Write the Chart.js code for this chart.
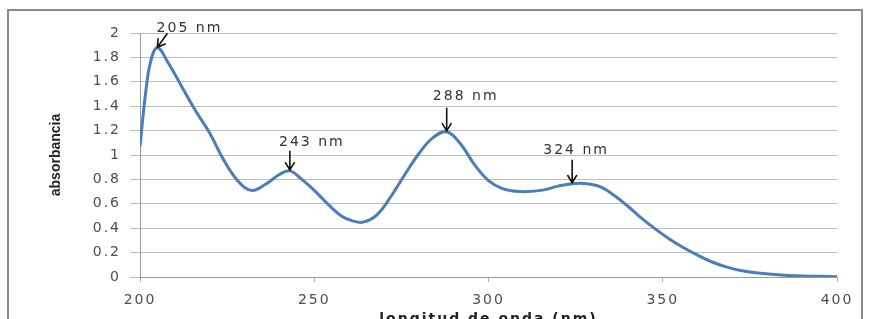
<!DOCTYPE html>
<html>
<head>
<meta charset="utf-8">
<script src="https://cdn.jsdelivr.net/npm/chart.js@4/dist/chart.umd.min.js"></script>
<style>
  html, body { margin: 0; padding: 0; background: #fff; }
  #wrap { width: 871px; height: 319px; }
</style>
</head>
<body>
<div id="wrap"><canvas id="spectrum"></canvas></div>
<script>
// Spectrum
const wavelengths = [200, 201.5, 203, 205, 208, 212, 216, 220, 224, 228, 232, 236, 240, 243, 246, 250, 254, 258, 261, 264, 268, 272, 276, 280, 284, 288, 292, 296, 300, 304, 309, 315, 320, 324, 328, 332, 336, 340, 344, 348, 352, 356, 360, 364, 368, 372, 378, 386, 400];
const absorbance = [1.07, 1.48, 1.76, 1.88, 1.76, 1.56, 1.36, 1.18, 0.96, 0.79, 0.71, 0.76, 0.84, 0.87, 0.81, 0.71, 0.595, 0.495, 0.46, 0.45, 0.51, 0.66, 0.84, 1.01, 1.14, 1.19, 1.09, 0.92, 0.79, 0.725, 0.70, 0.71, 0.745, 0.765, 0.765, 0.74, 0.67, 0.58, 0.48, 0.39, 0.31, 0.24, 0.18, 0.125, 0.085, 0.055, 0.03, 0.013, 0.003];

// Peak annotations
const peakNm = [205, 243, 288, 324];
const peakAbs = [1.875, 0.87, 1.19, 0.765];
const peakLabels = ['205 nm', '243 nm', '288 nm', '324 nm'];

const xTitle = 'longitud de onda (nm)';
const yTitle = 'absorbancia';

// label offset (dx, dy) from the peak and arrow tail offset, in px
const labelStyle = [
  { dx: 31, dy: -20, ax: 10, ay: -15 },
  { dx: 21, dy: -29, ax: 0, ay: -20 },
  { dx: 18, dy: -35, ax: 0, ay: -24 },
  { dx: 3, dy: -33, ax: 0, ay: -24 }
];

// the reference text is drawn wide, so spread the letters a little
const wideText = {
  id: 'wideText',
  beforeDraw(chart) {
    chart.ctx.letterSpacing = '2px';
  }
};

const framePlugin = {
  id: 'frame',
  afterDraw(chart) {
    const ctx = chart.ctx;
    ctx.save();
    ctx.strokeStyle = '#8c8c8c';
    ctx.lineWidth = 2;
    ctx.strokeRect(8, 10, 854, 330);

    // y axis title
    const area = chart.chartArea;
    ctx.letterSpacing = '0px';
    ctx.translate(56, (area.top + area.bottom) / 2);
    ctx.rotate(-Math.PI / 2);
    ctx.font = 'bold 14px "Liberation Sans Narrow", "Liberation Sans"';
    ctx.fillStyle = '#222';
    ctx.textAlign = 'center';
    ctx.textBaseline = 'middle';
    ctx.fillText(yTitle, 0, 0);
    ctx.restore();
  }
};

const peaksPlugin = {
  id: 'peaks',
  afterDatasetsDraw(chart) {
    const { ctx, scales } = chart;
    ctx.save();
    ctx.font = '14px "DejaVu Sans"';
    ctx.textAlign = 'center';
    ctx.textBaseline = 'middle';
    peakNm.forEach((nm, i) => {
      const px = scales.x.getPixelForValue(nm);
      const py = scales.y.getPixelForValue(peakAbs[i]);
      const s = labelStyle[i];
      ctx.fillStyle = '#333';
      ctx.fillText(peakLabels[i], px + s.dx + 1, py + s.dy);

      // arrow
      const tx = px + s.ax, ty = py + s.ay;
      const hx = px, hy = py - 1;
      ctx.strokeStyle = '#111';
      ctx.lineWidth = 1.6;
      ctx.beginPath();
      ctx.moveTo(tx, ty);
      ctx.lineTo(hx, hy);
      const ang = Math.atan2(hy - ty, hx - tx);
      const len = 9;
      ctx.moveTo(hx - len * Math.cos(ang - 0.55), hy - len * Math.sin(ang - 0.55));
      ctx.lineTo(hx, hy);
      ctx.lineTo(hx - len * Math.cos(ang + 0.55), hy - len * Math.sin(ang + 0.55));
      ctx.stroke();
    });
    ctx.restore();
  }
};

new Chart(document.getElementById('spectrum'), {
  type: 'line',
  data: {
    datasets: [{
      data: wavelengths.map((w, i) => ({ x: w, y: absorbance[i] })),
      borderColor: '#4a7ebb',
      borderWidth: 3,
      pointRadius: 0,
      tension: 0.4,
      fill: false
    }]
  },
  options: {
    responsive: true,
    maintainAspectRatio: false,
    animation: false,
    layout: { padding: { top: 33, right: 34, left: 0, bottom: 0 } },
    plugins: {
      legend: { display: false },
      tooltip: { enabled: false }
    },
    scales: {
      x: {
        type: 'linear',
        min: 200,
        max: 400,
        ticks: {
          stepSize: 50,
          padding: 10,
          color: '#4d4d4d',
          font: { family: '"DejaVu Sans"', size: 14 }
        },
        grid: { drawOnChartArea: false, tickLength: 5, color: '#aaa' },
        border: { color: '#999' },
        title: {
          display: true,
          text: xTitle,
          color: '#222',
          font: { family: '"DejaVu Sans"', size: 14, weight: 'bold' },
          padding: { top: 0, bottom: -9 }
        },
        afterFit(scale) { scale.height = 42; }
      },
      y: {
        min: 0,
        max: 2,
        ticks: {
          stepSize: 0.2,
          padding: 9,
          color: '#4d4d4d',
          font: { family: '"DejaVu Sans"', size: 14 },
          callback: v => String(Number(v.toFixed(1)))
        },
        grid: { color: '#bdbdbd', tickLength: 10 },
        border: { color: '#999' },
        afterFit(scale) { scale.width = 140; }
      }
    }
  },
  plugins: [wideText, framePlugin, peaksPlugin]
});
</script>
</body>
</html>
